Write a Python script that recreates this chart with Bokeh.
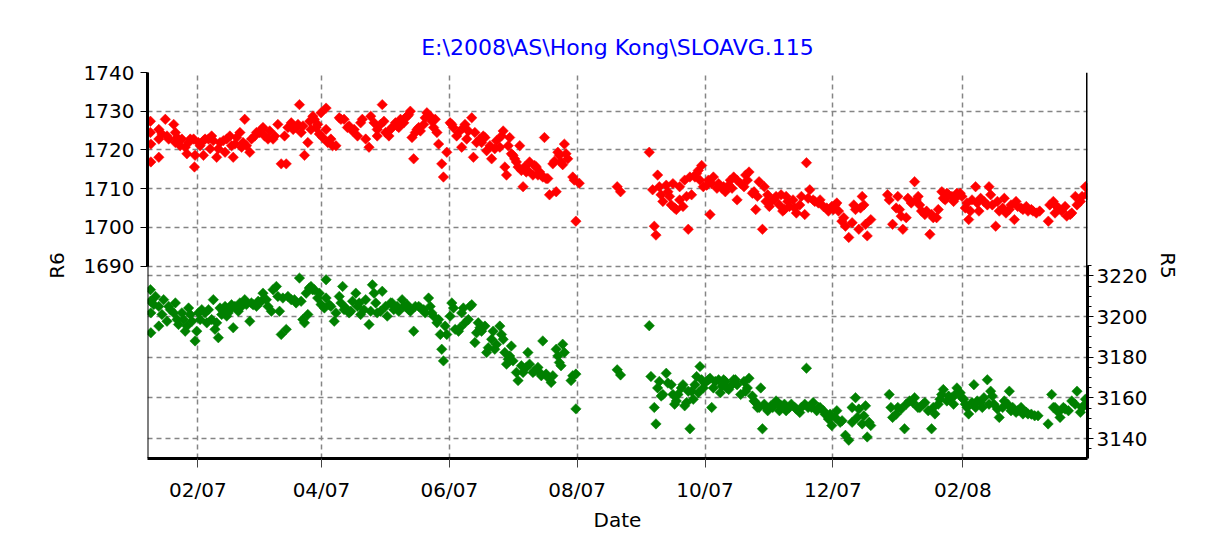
import math
import pandas as pd
from bokeh.plotting import figure
from bokeh.models import (Range1d, LinearAxis, FixedTicker, Grid, Span,
                          DatetimeTickFormatter, ColumnDataSource)
from bokeh.embed import file_html
from bokeh.resources import INLINE

# ---------------- data (days counted from 2007-01-01) ----------------
BASE_DATE = "2007-01-01"

red_day = [8.4, 8.4, 8.6, 8.6, 12.4, 12.4, 12.4, 15.5, 16.3, 19.5, 20.3, 20.3, 23.4, 25, 25.8, 27.4,
           29.4, 29.7, 31.3, 33.7, 33.7, 36.1, 37.6, 40, 40.8, 43.2, 44, 46.3, 47.9, 48.7, 51.1, 53.4,
           52.6, 55.8, 56.6, 58.2, 60.5, 62.1, 64.5, 66.9, 69.2, 70.8, 73.2, 72.4, 75.6, 77.9, 79.5,
           80.3, 81.9, 83.5, 85, 86.6, 88.2, 89.8, 92.2, 92.2, 94.5, 96.9, 98.5, 100.8, 102.4, 104.8,
           107.2, 109.5, 111.1, 112.7, 113.5, 115.1, 116.6, 119, 119.8, 122.2, 123.7, 126.1, 127.7,
           129.3, 130.9, 132.4, 133.2, 134, 135.6, 137.2, 138.8, 140.3, 141.9, 144.3, 145.1, 145.9,
           147.4, 148.2, 149.8, 151.4, 152.9, 154.5, 156.9, 158.5, 160.1, 161.7, 162.5, 164, 165.6,
           167.2, 168.8, 171.2, 173.5, 175.1, 176.7, 177.5, 178.3, 179.8, 181.4, 183, 184.6, 185.4,
           186.2, 187.7, 189.3, 191.7, 193.3, 194.9, 196.4, 197.2, 198.8, 200.4, 202, 202.8, 204.3,
           205.9, 207.5, 209.9, 211.4, 213,
           231.1, 232.7, 246.4, 248, 248.8, 249.6, 250.4, 252, 254.5, 256.1, 257.7, 259.3, 260.9,
           262.5, 263.3, 265, 266.6, 268.2, 269.8, 271.4, 272.2, 274.6, 275.4, 277, 279.5, 281.1,
           282.7, 284.3, 286.7, 288.3, 290, 292.4, 294, 295.6, 297.2, 298.8, 300.4, 301.3, 302.9,
           304.5, 306.9, 308.5, 310.1, 311.7, 313.3, 315, 316.6, 318.2, 320.6, 321.4, 323, 324.6,
           327.1, 329.5, 331.9, 333.5, 335.1, 336.7, 338.3, 340, 341.6, 343.2, 344.8, 346.4, 348,
           348.8, 350.4, 352.1, 360.1, 362.5, 365, 365.8, 367.4, 369, 371.4, 373, 374.7, 376.3,
           377.9, 380.3, 381.9, 384.3, 386, 387.6, 389.2, 391.6, 393.2, 395.6, 397.2, 398.8, 400.4,
           402.1, 403.7, 406.1, 408.5, 410.1, 411.7, 413.4, 415.8, 418.2, 420.6, 422.2, 424.7,
           427.1, 429.5, 432.7, 436.8, 439.2, 440.8, 443.2, 445.6, 448, 449.7, 452.1, 454.5, 455.3,
           13.9, 17.1, 21.1, 22.6, 26.6, 29, 32.1, 34.5, 36.9, 38.4, 41.6, 44.8, 47.1, 49.5, 51.9, 54.2,
           59, 61.4, 62.9, 65.3, 67.7, 74, 76.5, 78.8, 81.2, 84.4, 85.9, 87.4, 89, 90.6, 93, 95.3,
           99.3, 103.2, 105.6, 108.7, 116.6, 118.2, 120.6, 122.9, 125.3, 126.9, 130.1, 131.6, 134.8,
           136.4, 139.5, 142.7, 143.5,
           152.2, 155.4, 157.7, 159.3, 163.2, 166.4, 168, 170.4, 172.7, 175.9, 179.1, 180.6, 182.2,
           183.8, 186.9, 188.5, 190.9, 192.5, 194.1, 195.6, 198, 201.2, 203.5, 205.1, 206.7, 210.6,
           251.2, 252.9, 255.3, 256.9, 258.5, 260.9, 264.2, 265.8, 269, 270.6,
           273.8, 276.2, 278.7, 281.9, 285.1, 285.9, 288.3, 291.6, 293.2, 296.4,
           298, 302.1, 303.7, 306.1, 309.3, 310.9, 312.5, 315.8, 319, 322.2,
           325.4, 327.9, 331.1, 334.3, 335.9, 339.2, 344, 347.2, 349.6, 360.9,
           364.2, 366.6, 369.8, 373.8, 375.4, 378.7, 381.1, 383.5, 386.7, 388.4,
           390.8, 392.4, 394.8, 398, 399.6, 402.9, 404.5, 407.7, 409.3, 412.5,
           415, 416.6, 419, 421.4, 423.8, 426.3, 428.7, 431.1, 437.5, 440,
           441.6, 444.8, 447.2, 450.5, 452.9]
red_val = [1727.4, 1724.5, 1721.5, 1716.9, 1725.3, 1722.8, 1718.1, 1727.9, 1723.6, 1726.6, 1724.5,
           1721.9, 1722.8, 1720.7, 1719.0, 1722.8, 1715.6, 1718.6, 1721.9, 1722.4, 1718.6, 1722.8,
           1723.6, 1718.1, 1720.3, 1722.4, 1719.4, 1723.6, 1718.1, 1721.5, 1724.5, 1727.9, 1721.9,
           1719.4, 1722.8, 1723.6, 1724.5, 1725.8, 1722.8, 1722.8, 1726.6, 1716.4, 1716.4, 1723.6,
           1727.0, 1725.8, 1731.7, 1724.5, 1718.6, 1721.9, 1725.3, 1727.9, 1726.6, 1729.6, 1730.8,
           1725.3, 1722.8, 1721.1, 1728.3, 1727.9, 1725.8, 1724.9, 1723.6, 1727.9, 1722.8, 1720.7,
           1728.7, 1727.0, 1723.6, 1731.7, 1727.4, 1723.6, 1725.8, 1726.2, 1727.9, 1727.0, 1728.7,
           1730.0, 1723.2, 1717.7, 1725.3, 1724.9, 1726.6, 1729.6, 1728.7, 1727.9, 1724.5, 1721.5,
           1716.4, 1713.0, 1719.4, 1727.0, 1725.8, 1723.6, 1720.7, 1726.6, 1724.9, 1728.3, 1718.1,
           1721.9, 1722.8, 1723.6, 1719.8, 1717.7, 1722.4, 1720.7, 1724.9, 1715.6, 1713.5, 1723.2,
           1718.6, 1716.9, 1721.1, 1714.7, 1710.5, 1714.3, 1716.9, 1716.0, 1713.5, 1713.5, 1723.2,
           1712.6, 1708.4, 1716.4, 1709.2, 1719.4, 1716.9, 1721.5, 1717.7, 1713.0, 1701.6, 1711.4,
           1710.5, 1709.2, 1719.4, 1709.7, 1700.3, 1698.0, 1713.5, 1708.4, 1710.9, 1708.0, 1711.3,
           1704.6, 1707.1, 1705.4, 1712.2, 1699.5, 1708.4, 1713.0, 1714.7, 1716.0, 1710.5, 1712.2,
           1703.3, 1713.0, 1711.3, 1710.1, 1709.2, 1710.9, 1713.0, 1707.1, 1711.3, 1713.5, 1714.3,
           1708.8, 1704.6, 1711.8, 1699.5, 1710.5, 1708.4, 1706.7, 1708.0, 1705.8, 1704.2, 1708.0,
           1705.4, 1707.1, 1703.7, 1705.8, 1703.3, 1716.7, 1709.7, 1707.1, 1706.3, 1705.4, 1704.2,
           1705.4, 1705.8, 1704.2, 1701.6, 1700.3, 1697.4, 1701.2, 1704.6, 1699.5, 1708.0, 1705.8,
           1697.8, 1702.0, 1708.4, 1700.8, 1708.0, 1704.6, 1699.5, 1702.5, 1706.3, 1711.8, 1708.0,
           1704.2, 1703.3, 1698.2, 1702.5, 1704.6, 1709.2, 1707.1, 1708.4, 1706.7, 1708.8, 1708.0,
           1705.0, 1702.0, 1707.1, 1710.5, 1704.2, 1706.7, 1710.5, 1705.8, 1700.3, 1704.2, 1707.5,
           1704.6, 1702.0, 1705.4, 1704.6, 1704.2, 1704.2, 1704.2, 1701.6, 1706.7, 1705.4, 1704.2,
           1702.9, 1703.7, 1708.0, 1706.7, 1710.5, 1708.4,
           1724.1, 1722.8, 1723.2, 1721.1, 1721.9, 1722.8, 1721.1, 1722.8, 1720.3, 1722.4, 1721.9,
           1722.8, 1721.1, 1723.2, 1720.7, 1721.1,
           1724.5, 1725.3, 1723.6, 1724.9, 1723.6, 1725.8, 1725.3, 1726.6, 1726.2, 1727.4, 1728.7,
           1725.8, 1724.1, 1723.2, 1721.9, 1721.1,
           1727.9, 1726.2, 1725.3, 1727.0, 1725.3, 1726.6, 1724.5, 1725.3, 1727.0, 1725.8, 1728.3,
           1729.1, 1724.5, 1725.8, 1728.3, 1727.4, 1725.8,
           1726.6, 1724.5, 1725.8, 1722.8, 1724.5, 1721.9, 1723.2, 1721.1, 1720.3, 1723.6, 1721.1,
           1719.0, 1717.7, 1715.6, 1715.6, 1714.7, 1713.5, 1715.6, 1714.3, 1713.0, 1712.6, 1717.1,
           1718.6, 1716.2, 1719.0, 1712.2,
           1710.5, 1706.7, 1709.2, 1705.8, 1705.0, 1710.5, 1708.0, 1713.0, 1713.9, 1712.2,
           1710.9, 1711.3, 1710.1, 1710.5, 1712.2, 1710.1, 1712.2, 1710.5, 1712.2, 1709.2,
           1708.0, 1706.7, 1705.4, 1707.1, 1708.4, 1704.6, 1706.7, 1705.0, 1708.0, 1707.5,
           1706.7, 1707.1, 1705.0, 1704.6, 1706.3, 1702.5, 1705.8, 1705.0, 1700.8, 1707.1,
           1705.0, 1702.9, 1707.5, 1707.1, 1705.8, 1704.2, 1703.3, 1702.5, 1707.5, 1708.8,
           1708.0, 1707.5, 1708.8, 1706.3, 1704.2, 1706.3, 1707.5, 1705.8, 1708.4, 1706.7,
           1705.0, 1703.7, 1705.8, 1706.7, 1705.0, 1705.4, 1704.6, 1703.7, 1705.8, 1703.7,
           1705.0, 1705.4, 1703.3, 1705.8, 1708.0]

green_day = [8.4, 8.4, 8.6, 8.6, 10.8, 12.4, 12.4, 14.7, 16.3, 17.9, 20.3, 21.8, 23.4, 25, 26.6, 28.2,
             29.7, 30.5, 32.1, 34.5, 36.1, 38.4, 39.2, 40.8, 42.4, 44, 45.5, 47.1, 47.9, 50.3, 51.9,
             53.4, 55.8, 57.4, 59.8, 62.1, 63.7, 66.1, 68.5, 70, 70.8, 73.2, 74, 77.1, 79.5, 80.3,
             81.9, 83.5, 85, 86.6, 89, 92.2, 92.2, 93.7, 96.1, 98.5, 100.1, 101.6, 104, 106.4, 108,
             110.3, 112.7, 114.3, 115.1, 116.6, 119, 121.4, 123.7, 126.1, 128.5, 130.9, 132.4, 134,
             136.4, 138.8, 141.1, 142.7, 145.1, 146.7, 147.4, 148.2, 149.8, 151.4, 152.2, 153.8,
             156.1, 157.7, 160.1, 161.7, 163.2, 164, 165.6, 168, 168.8, 171.2, 172.7, 175.1, 176.7,
             178.3, 179.8, 181.4, 183.8, 186.2, 188.5, 189.3, 191.7, 194.1, 195.6, 197.2, 199.6, 202,
             203.5, 205.1, 209.1, 211.4, 211.4,
             231.1, 232.7, 246.4, 247.2, 248.8, 249.6, 251.2, 252.9, 254.5, 256.9, 258.5, 260.1,
             262.5, 263.3, 265, 265.8, 267.4, 269, 270.6, 272.2, 274.6, 276.2, 277.9, 280.3, 281.9,
             283.5, 285.9, 287.5, 290, 292.4, 294, 296.4, 298, 299.6, 300.4, 302.1, 304.5, 306.9,
             308.5, 310.9, 313.3, 315.8, 318.2, 321.4, 322.2, 324.6, 327.1, 329.5, 331.9, 333.5,
             335.9, 338.4, 340, 341.6, 343.2, 344.8, 346.4, 348, 349.6, 350.4, 352.1, 360.9, 362.5,
             365, 368.2, 370.6, 373, 375.5, 377.9, 381.1, 382.7, 385.1, 386.7, 389.2, 391.6, 393.2,
             395.6, 397.2, 398.8, 401.3, 402.9, 405.3, 407.7, 409.3, 410.9, 413.4, 415.8, 418.2,
             419.8, 422.2, 424.7, 427.1, 430.3, 436.7, 438.4, 440, 442.4, 444.8, 448, 450.5, 452.9,
             454.5,
             10, 13.9, 17.1, 19.5, 21.1, 24.2, 25.8, 27.4, 31.3, 32.9,
             35.3, 37.6, 40, 41.6, 43.2, 44.8, 46.3, 48.7, 51.1, 54.2,
             56.6, 59, 61.3, 64.5, 66.9, 69.2, 71.6, 75.6, 77.9, 81.1,
             82.7, 84.2, 85.8, 88.2, 89.8, 91.4, 94.5, 96.9, 99.3, 100.8,
             103.2, 104.8, 107.2, 108.7, 111.1, 113.5, 115.9, 118.2, 120.6, 123,
             124.5, 126.9, 129.3, 131.6, 134.8, 137.2, 139.5, 141.9, 143.5, 145.9,
             149, 153, 155.4, 156.9, 158.5, 160.9, 164.8, 166.4, 169.6, 171.9,
             173.5, 175.9, 177.5, 179.1, 180.6, 183, 185.4, 187.7, 190.9, 193.3,
             194.9, 198, 200.4, 202.8, 204.3, 205.9, 209.9,
             250.4, 252.1, 255.3, 257.7, 259.3, 261.7, 264.2, 266.6, 268.2, 269.8,
             271.4, 273, 275.4, 277, 279.5, 281.1, 282.7, 284.3, 286.7, 288.3,
             291.6, 293.2, 295.6, 297.2, 298.8, 301.3, 302.9, 305.3, 307.7, 309.3,
             311.7, 314.2, 316.6, 319, 320.6, 323.8, 326.3, 327.9, 330.3, 332.7,
             335.1, 337.5, 343.2, 345.6, 348.8, 351.3, 361.7, 364.2, 366.6, 369,
             372.2, 374.6, 377.1, 379.5, 381.9, 384.3, 385.9, 388.4, 390.8, 392.4,
             394.8, 396.4, 398, 400.4, 402.1, 404.5, 406.1, 408.5, 410.1, 412.5,
             415, 417.4, 419, 421.4, 423.8, 426.3, 428.7, 431.9, 439.2, 441.6,
             444, 446.4, 449.6, 452.1, 453.7]
green_val = [3213.2, 3207.5, 3201.8, 3192.0, 3209.9, 3205.0, 3195.3, 3208.3, 3197.7, 3203.4, 3206.7,
             3196.1, 3201.8, 3192.8, 3204.2, 3197.7, 3188.0, 3192.8, 3198.5, 3201.8, 3203.4, 3208.3,
             3193.7, 3189.6, 3201.0, 3205.0, 3201.8, 3205.8, 3194.5, 3202.6, 3205.0, 3208.3, 3197.7,
             3205.8, 3207.5, 3211.5, 3208.3, 3202.6, 3214.8, 3202.6, 3191.2, 3193.7, 3209.9, 3208.3,
             3218.9, 3207.5, 3196.9, 3201.0, 3214.8, 3213.2, 3211.5, 3218.1, 3209.1, 3205.8, 3197.7,
             3209.9, 3214.8, 3204.2, 3202.6, 3211.5, 3206.7, 3203.4, 3196.1, 3215.6, 3211.5, 3201.8,
             3212.4, 3200.2, 3206.7, 3205.0, 3208.3, 3205.8, 3202.6, 3192.8, 3205.0, 3203.4, 3209.1,
             3201.8, 3196.9, 3191.2, 3183.9, 3178.2, 3191.2, 3200.2, 3206.7, 3193.7, 3194.5, 3204.2,
             3198.5, 3205.8, 3187.2, 3192.0, 3194.5, 3195.3, 3182.3, 3188.8, 3183.9, 3195.3, 3188.8,
             3176.6, 3180.6, 3178.2, 3168.5, 3172.5, 3182.3, 3176.6, 3173.3, 3172.5, 3188.0, 3171.7,
             3167.6, 3183.9, 3177.4, 3186.4, 3168.5, 3171.7, 3154.6,
             3173.8, 3171.3, 3195.5, 3170.5, 3155.3, 3147.2, 3168.1, 3161.7, 3172.1, 3166.5, 3156.9,
             3161.7, 3166.5, 3156.1, 3163.3, 3144.8, 3159.3, 3170.5, 3175.4, 3164.9, 3168.9, 3155.3,
             3168.1, 3162.5, 3168.9, 3164.9, 3166.5, 3168.9, 3161.7, 3163.3, 3169.7, 3158.5, 3155.3,
             3164.9, 3144.8, 3155.3, 3156.1, 3158.5, 3153.7, 3156.9, 3155.3, 3155.3, 3152.8, 3174.6,
             3155.3, 3157.7, 3155.3, 3153.7, 3149.6, 3146.4, 3153.7, 3148.8, 3141.6, 3139.2, 3148.0,
             3160.1, 3154.5, 3147.2, 3156.1, 3140.8, 3146.4, 3161.7, 3150.4, 3155.3, 3144.8, 3158.5,
             3160.1, 3155.3, 3157.7, 3144.8, 3152.1, 3159.3, 3164.1, 3160.9, 3156.9, 3164.9, 3160.1,
             3156.9, 3152.1, 3166.5, 3158.5, 3155.3, 3168.9, 3163.3, 3156.9, 3150.4, 3158.5, 3163.3,
             3155.3, 3153.7, 3152.1, 3152.1, 3151.2, 3147.2, 3161.7, 3155.3, 3150.4, 3154.5, 3158.5,
             3163.3, 3155.3, 3159.3,
             3205.9, 3201.0, 3205.0, 3201.8, 3198.5, 3198.5, 3195.3, 3201.0, 3201.8, 3203.4,
             3196.9, 3198.5, 3196.9, 3204.2, 3202.6, 3200.2, 3203.4, 3205.0, 3206.7, 3205.9,
             3206.7, 3205.0, 3207.5, 3205.0, 3213.2, 3209.9, 3209.1, 3208.3, 3206.7, 3198.5,
             3211.5, 3214.0, 3213.2, 3209.1, 3205.9, 3204.2, 3205.0, 3201.8, 3206.7, 3203.4,
             3201.8, 3207.5, 3205.0, 3201.0, 3208.3, 3202.6, 3206.7, 3202.6, 3205.0, 3206.7,
             3203.4, 3202.6, 3205.0, 3203.4, 3205.0, 3204.2, 3201.8, 3205.0, 3200.2, 3198.5,
             3195.3, 3204.2, 3192.8, 3201.8, 3196.9, 3205.0, 3196.9, 3192.8, 3184.7, 3192.8,
             3186.3, 3191.2, 3182.3, 3179.0, 3185.5, 3172.5, 3175.8, 3175.0, 3172.5, 3175.0,
             3170.9, 3170.1, 3170.9, 3180.6, 3175.8, 3182.3, 3170.9,
             3164.9, 3160.9, 3167.3, 3161.7, 3158.5, 3164.9, 3157.7, 3163.3, 3166.5, 3162.5,
             3168.9, 3167.3, 3169.7, 3164.9, 3168.9, 3165.7, 3168.1, 3164.1, 3168.9, 3166.5,
             3168.1, 3164.9, 3160.9, 3157.7, 3155.3, 3156.9, 3153.7, 3155.3, 3157.7, 3156.1,
             3153.7, 3156.9, 3154.5, 3155.3, 3156.9, 3155.3, 3153.7, 3155.3, 3152.0, 3152.0,
             3150.4, 3148.0, 3155.3, 3150.4, 3151.2, 3148.0, 3155.3, 3152.0, 3154.5, 3156.9,
             3157.7, 3155.3, 3156.9, 3153.7, 3155.3, 3156.9, 3161.7, 3158.5, 3160.1, 3161.7,
             3162.5, 3159.3, 3155.3, 3157.7, 3155.3, 3157.7, 3160.1, 3156.9, 3160.9, 3154.5,
             3155.3, 3156.9, 3153.7, 3152.9, 3155.3, 3152.9, 3152.0, 3151.2, 3155.3, 3152.9,
             3155.3, 3153.7, 3156.9, 3152.9, 3156.1]

tick_dates = ["2007-02-01", "2007-04-01", "2007-06-01", "2007-08-01",
              "2007-10-01", "2007-12-01", "2008-02-01"]
tick_labels = ["02/07", "04/07", "06/07", "08/07", "10/07", "12/07", "02/08"]
r6_ticks = [1690, 1700, 1710, 1720, 1730, 1740]
r5_ticks = [3140, 3160, 3180, 3200, 3220]
r5_minor = [3135, 3145, 3150, 3155, 3165, 3170, 3175, 3185, 3190, 3195, 3205, 3210, 3215, 3225]

# ---------------- build ----------------
base = pd.Timestamp(BASE_DATE)


def to_dt(days):
    return [base + pd.Timedelta(days=d) for d in days]


def ms(ts):
    return ts.value / 1e6


x_start = base + pd.Timedelta(days=7)
x_end = base + pd.Timedelta(days=455.5)

FONT = "DejaVu Sans"

p = figure(width=1195, height=534, x_axis_type="datetime",
           x_range=Range1d(ms(x_start), ms(x_end)), y_range=Range1d(1640.3, 1740),
           output_backend="svg", toolbar_location=None,
           min_border_left=147, min_border_right=108, min_border_top=72, min_border_bottom=72,
           title="E:\\2008\\AS\\Hong Kong\\SLOAVG.115")
p.extra_y_ranges = {"r5": Range1d(3130.2, 3320)}
p.outline_line_color = None
p.background_fill_color = "white"
p.border_fill_color = "white"

p.title.align = "center"
p.title.text_color = "#0000ff"
p.title.text_font = FONT
p.title.text_font_size = "22px"
p.title.text_font_style = "normal"
p.title.standoff = 25

GRID_COLOR = "#858585"
GRID_DASH = "5 4"

# x axis
tick_ms = [ms(pd.Timestamp(d)) for d in tick_dates]
xticker = FixedTicker(ticks=tick_ms)
xa = p.xaxis[0]
xa.ticker = xticker
xa.formatter = DatetimeTickFormatter(days="%m/%y", months="%m/%y", years="%m/%y")
xa.major_label_overrides = dict(zip(tick_ms, tick_labels))
xa.axis_label = "Date"
xa.axis_line_width = 3
xa.axis_line_color = "black"
xa.major_tick_out = 9
xa.major_tick_in = 0
xa.minor_tick_out = 0
xa.minor_tick_in = 0
xa.major_tick_line_color = "#444444"
xa.major_label_standoff = 10
xa.axis_label_standoff = 3

p.xgrid.ticker = xticker
p.xgrid.grid_line_color = GRID_COLOR
p.xgrid.grid_line_dash = GRID_DASH
p.xgrid.grid_line_width = 1.5

# left axis (R6)
ya = p.yaxis[0]
ya.ticker = FixedTicker(ticks=r6_ticks)
ya.bounds = (1690, 1740)
ya.axis_label = "R6"
ya.axis_line_width = 3
ya.major_tick_out = 7
ya.major_tick_in = 0
ya.minor_tick_out = 0
ya.minor_tick_in = 0
ya.major_label_standoff = 6
ya.axis_label_standoff = 12

p.ygrid.ticker = FixedTicker(ticks=r6_ticks)
p.ygrid.grid_line_color = GRID_COLOR
p.ygrid.grid_line_dash = GRID_DASH
p.ygrid.grid_line_width = 1.5

# right axis (R5)
ra = LinearAxis(y_range_name="r5", ticker=FixedTicker(ticks=r5_ticks, minor_ticks=r5_minor),
                bounds=(3130.2, 3225), axis_label="R5")
ra.axis_line_width = 3
ra.major_tick_out = 6
ra.major_tick_in = 0
ra.minor_tick_out = 4
ra.minor_tick_in = 0
ra.major_label_standoff = 3
ra.axis_label_standoff = 6
p.add_layout(ra, "right")

g5 = Grid(dimension=1, ticker=FixedTicker(ticks=r5_ticks), y_range_name="r5")
g5.grid_line_color = GRID_COLOR
g5.grid_line_dash = GRID_DASH
g5.grid_line_width = 1.5
p.add_layout(g5)

for ax in (xa, ya, ra):
    ax.major_label_text_font = FONT
    ax.major_label_text_font_size = "20px"
    ax.major_label_text_color = "black"
    ax.axis_label_text_font = FONT
    ax.axis_label_text_font_size = "20px"
    ax.axis_label_text_font_style = "normal"
    ax.axis_label_text_color = "black"

# frame edges
p.add_layout(Span(location=ms(x_start), dimension="height", line_color="black", line_width=2))
p.add_layout(Span(location=ms(x_end), dimension="height", line_color="black", line_width=3))

# data
red_src = ColumnDataSource(dict(x=to_dt(red_day), y=red_val))
green_src = ColumnDataSource(dict(x=to_dt(green_day), y=green_val))
p.scatter("x", "y", source=red_src, marker="square", angle=math.pi / 4, size=7.4,
          fill_color="#ff0000", line_color="#ff0000", line_width=0.5)
p.scatter("x", "y", source=green_src, marker="square", angle=math.pi / 4, size=7.4,
          fill_color="#008000", line_color="#008000", line_width=0.5, y_range_name="r5")

open("out.html", "w").write(file_html(p, INLINE))
